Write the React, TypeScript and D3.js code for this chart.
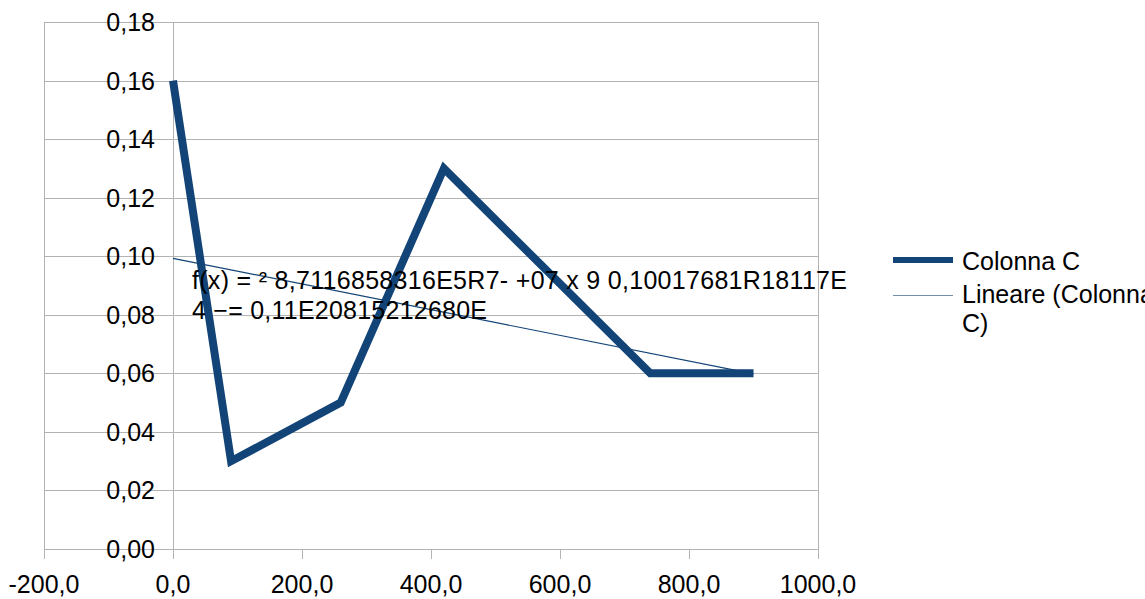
import React from "react";
import * as d3 from "d3";

const xValues = [0, 90, 260, 420, 740, 900];
const yValues = [0.16, 0.03, 0.05, 0.13, 0.06, 0.06];
const xTicks = [-200, 0, 200, 400, 600, 800, 1000];
const yTicks = [0, 0.02, 0.04, 0.06, 0.08, 0.1, 0.12, 0.14, 0.16, 0.18];
const seriesName = "Colonna C";
const trendName1 = "Lineare (Colonna";
const trendName2 = "C)";
const eqLine1 = "f(x) = ²  8,7116858316E5R7- +07 x 9 0,10017681R18117E";
const eqLine2 = "4 −= 0,11E20815212680E";

const W = 1145;
const H = 599;
const plot = { left: 44, right: 818, top: 22, bottom: 549 };
const color = "#134477";
const grid = "#b3b3b3";
const font = "'Liberation Sans', Arial, sans-serif";

export default function App() {
  const x = d3.scaleLinear().domain([-200, 1000]).range([plot.left, plot.right]);
  const y = d3.scaleLinear().domain([0, 0.18]).range([plot.bottom, plot.top]);
  const pts = xValues.map((v, i) => [v, yValues[i]] as [number, number]);
  const line = d3
    .line<[number, number]>()
    .x((d) => x(d[0]))
    .y((d) => y(d[1]));

  // least-squares linear trend
  const mx = d3.mean(xValues)!;
  const my = d3.mean(yValues)!;
  const sxy = d3.sum(pts, (p) => (p[0] - mx) * (p[1] - my));
  const sxx = d3.sum(xValues, (v) => (v - mx) * (v - mx));
  const slope = sxy / sxx;
  const intercept = my - slope * mx;
  const xMin = d3.min(xValues)!;
  const xMax = d3.max(xValues)!;
  const trend: [number, number][] = [
    [xMin, intercept + slope * xMin],
    [xMax, intercept + slope * xMax],
  ];

  const fmtX = (v: number) => v.toFixed(1).replace(".", ",");
  const fmtY = (v: number) => v.toFixed(2).replace(".", ",");

  return (
    <div style={{ position: "absolute", left: 0, top: 0, width: W, height: H, background: "#fff" }}>
      <svg width={W} height={H} style={{ display: "block" }} fontFamily={font}>
        <rect x={0} y={0} width={W} height={H} fill="#fff" />
        {/* horizontal grid */}
        {yTicks.map((t) => (
          <line key={"g" + t} x1={plot.left} x2={plot.right} y1={Math.round(y(t)) + 0.5} y2={Math.round(y(t)) + 0.5} stroke={grid} strokeWidth={1} />
        ))}
        {/* borders */}
        <line x1={plot.left + 0.5} x2={plot.left + 0.5} y1={plot.top} y2={plot.bottom + 10} stroke={grid} />
        <line x1={plot.right + 0.5} x2={plot.right + 0.5} y1={plot.top} y2={plot.bottom + 10} stroke={grid} />
        {/* y axis at x=0 */}
        <line x1={Math.round(x(0)) + 0.5} x2={Math.round(x(0)) + 0.5} y1={plot.top} y2={plot.bottom + 10} stroke={grid} />
        {/* x tick marks */}
        {xTicks.map((t) => (
          <line key={"t" + t} x1={Math.round(x(t)) + 0.5} x2={Math.round(x(t)) + 0.5} y1={plot.bottom} y2={plot.bottom + 10} stroke={grid} />
        ))}
        {/* y labels */}
        {yTicks.map((t) => (
          <text key={"yl" + t} x={x(0) - 18} y={y(t) + 9} textAnchor="end" fontSize={25} fill="#000">
            {fmtY(t)}
          </text>
        ))}
        {/* x labels */}
        {xTicks.map((t) => (
          <text key={"xl" + t} x={x(t)} y={593} textAnchor="middle" fontSize={25} fill="#000">
            {fmtX(t)}
          </text>
        ))}
        {/* series */}
        <path d={line(pts) || ""} fill="none" stroke={color} strokeWidth={8} strokeLinejoin="miter" strokeLinecap="butt" />
        {/* trend */}
        <path d={line(trend) || ""} fill="none" stroke={color} strokeWidth={1.2} />
        {/* equation */}
        <text x={192} y={289} fontSize={25} fill="#000" textLength={655} lengthAdjust="spacing">
          {eqLine1}
        </text>
        <text x={192} y={319} fontSize={25} fill="#000" textLength={295} lengthAdjust="spacing">
          {eqLine2}
        </text>
        {/* legend */}
        <line x1={893} x2={953} y1={260} y2={260} stroke={color} strokeWidth={6} />
        <text x={962} y={270} fontSize={25} fill="#000">{seriesName}</text>
        <line x1={893} x2={953} y1={295.5} y2={295.5} stroke={color} strokeWidth={1} opacity={0.6} />
        <text x={962} y={303} fontSize={25} fill="#000">{trendName1}</text>
        <text x={962} y={332} fontSize={25} fill="#000">{trendName2}</text>
      </svg>
    </div>
  );
}
